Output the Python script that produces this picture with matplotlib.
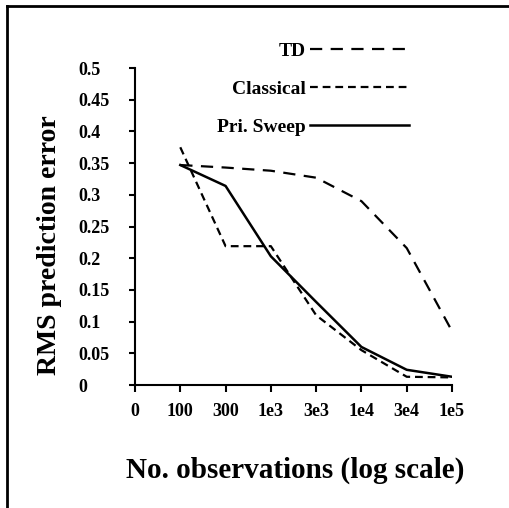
import matplotlib
matplotlib.use("Agg")
import matplotlib.pyplot as plt
from matplotlib.lines import Line2D

# data (x is categorical on a log-like axis)
x_labels = ["0", "100", "300", "1e3", "3e3", "1e4", "3e4", "1e5"]
obs_pos = [1, 2, 3, 4, 5, 6, 7]
td = [0.347, 0.343, 0.338, 0.327, 0.290, 0.216, 0.085]
classical = [0.375, 0.219, 0.219, 0.110, 0.055, 0.013, 0.012]
pri_sweep = [0.347, 0.314, 0.203, 0.131, 0.060, 0.024, 0.013]
y_ticks = [0, 0.05, 0.1, 0.15, 0.2, 0.25, 0.3, 0.35, 0.4, 0.45, 0.5]
y_labels = ["0", "0.05", "0.1", "0.15", "0.2", "0.25", "0.3", "0.35", "0.4", "0.45", "0.5"]

plt.rcParams['font.family'] = ['Liberation Serif', 'DejaVu Serif']
plt.rcParams['font.weight'] = 'bold'

fig = plt.figure(figsize=(5.1, 5.08), dpi=100)
ax = fig.add_axes([0.2647, 0.2421, 0.6216, 0.624])

ax.plot(obs_pos, td, color='black', lw=1.6, dashes=(5.5, 3.8), label='TD')
ax.plot(obs_pos, classical, color='black', lw=1.6, dashes=(3.5, 2.2), label='Classical')
ax.plot(obs_pos, pri_sweep, color='black', lw=1.8, label='Pri. Sweep')

ax.set_xlim(0, 7)
ax.set_ylim(0, 0.5)
ax.set_xticks(range(len(x_labels)))
ax.set_xticklabels(x_labels)
ax.set_yticks(y_ticks)
ax.set_yticklabels(y_labels)

for s in ['top', 'right']:
    ax.spines[s].set_visible(False)
for s in ['left', 'bottom']:
    ax.spines[s].set_linewidth(1.5)

ax.tick_params(axis='x', direction='out', length=5, width=1.5, pad=8, labelsize=13)
ax.tick_params(axis='y', direction='out', length=4, width=1.5, pad=37, labelsize=13)
for lab in ax.get_yticklabels():
    lab.set_horizontalalignment('left')

ax.set_xlabel('No. observations (log scale)', fontsize=21, fontweight='bold')
ax.set_ylabel('RMS prediction error', fontsize=20, fontweight='bold')
ax.xaxis.set_label_coords(0.505, -0.225)
ax.yaxis.set_label_coords(-0.23, 0.44)

leg = ax.legend(loc='lower right', bbox_to_anchor=(0.865, 0.785), frameon=False,
                markerfirst=False, handlelength=5.1, handletextpad=0.2,
                labelspacing=1.05, fontsize=14, borderpad=0, borderaxespad=0)

# frame lines on the left and top of the figure
fig.add_artist(Line2D([0.014, 0.014], [0.0, 0.988], transform=fig.transFigure, color='black', lw=2))
fig.add_artist(Line2D([0.014, 1.0], [0.988, 0.988], transform=fig.transFigure, color='black', lw=2))

plt.savefig('out.png', dpi=100)
